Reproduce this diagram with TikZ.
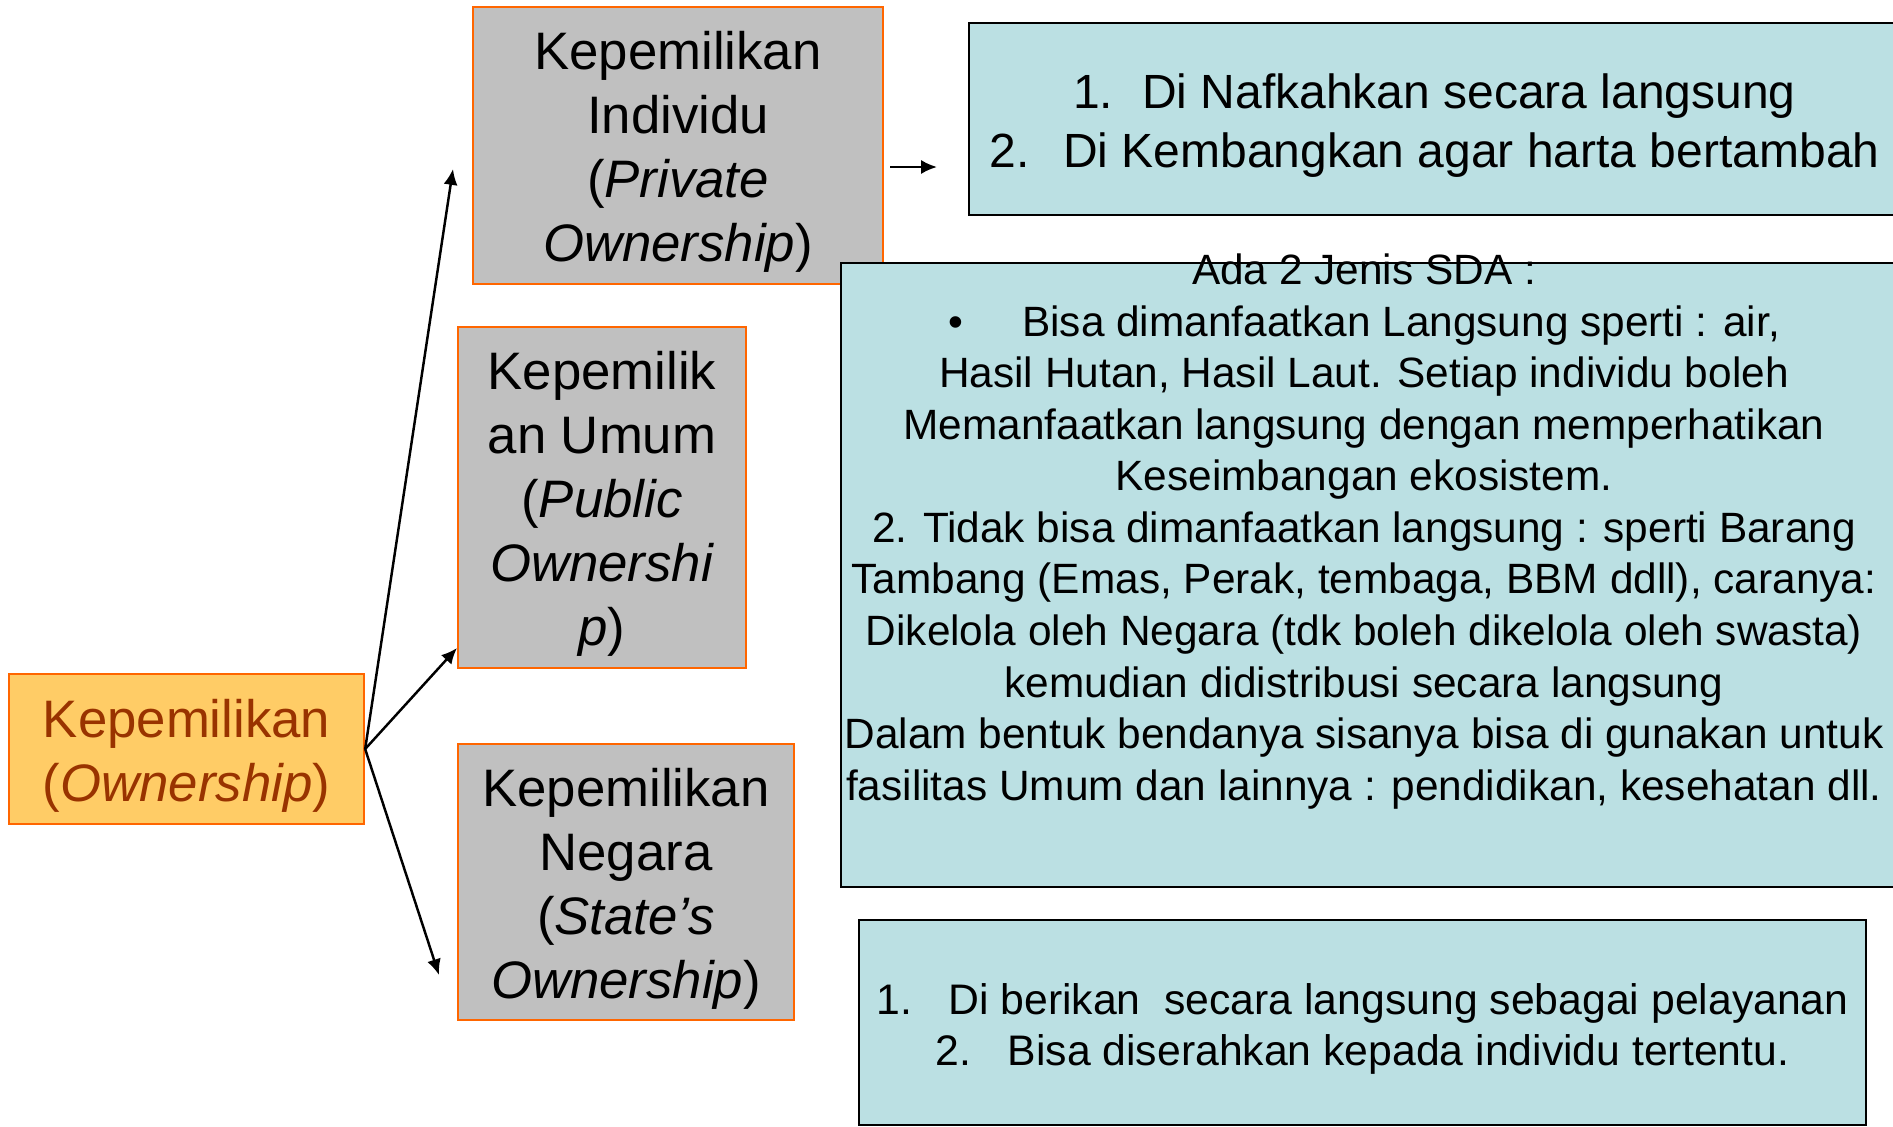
\documentclass[tikz,border=0pt]{standalone}
\usepackage{fontspec}
\setmainfont{Liberation Sans}
\usetikzlibrary{arrows.meta}

\definecolor{ownfill}{HTML}{FFCC66}
\definecolor{ownline}{HTML}{FF6600}
\definecolor{owntext}{HTML}{993300}
\definecolor{kindfill}{HTML}{C0C0C0}
\definecolor{notefill}{HTML}{BBE0E3}

\begin{document}
\begin{tikzpicture}[x=0.01cm, y=-0.01cm,
  ownbox/.style={draw=ownline, line width=0.6pt, fill=ownfill, inner sep=0pt},
  kindbox/.style={draw=ownline, line width=0.6pt, fill=kindfill, inner sep=0pt},
  notebox/.style={draw=black, line width=0.6pt, fill=notefill, inner sep=0pt},
  boxtext/.style={align=center, inner sep=0pt, yshift=-0.065cm},
  bigtext/.style={boxtext, font=\fontsize{15}{18.2}\selectfont},
  link/.style={line width=0.7pt, -{Latex[length=4.5pt, width=4pt]}}
]
  % page size in pixels of the slide
  \useasboundingbox (0,0) rectangle (1893,1127);
  \clip (0,0) rectangle (1893,1127);

  % root
  \node[ownbox, minimum width=3.55cm, minimum height=1.50cm] (own) at (186.5,749) {};
  \node[bigtext, text=owntext] (owntxt) at (own.center)
    {Kepemilikan\\(\textit{Ownership})};

  % the three kinds of ownership
  \node[kindbox, minimum width=4.10cm, minimum height=2.77cm] (priv) at (678,145.5) {};
  \node[bigtext] (privtxt) at (priv.center)
    {Kepemilikan\\Individu\\(\textit{Private}\\\textit{Ownership})};
  \node[kindbox, minimum width=2.88cm, minimum height=3.41cm] (publ) at (602,497.5) {};
  \node[bigtext] (publtxt) at (publ.center)
    {Kepemilik\\an Umum\\(\textit{Public}\\\textit{Ownershi}\\\textit{p})};
  \node[kindbox, minimum width=3.36cm, minimum height=2.76cm] (stat) at (626,882) {};
  \node[bigtext] (stattxt) at (stat.center)
    {Kepemilikan\\Negara\\(\textit{State’s}\\\textit{Ownership})};

  % notes on the right
  \node[notebox, minimum width=9.31cm, minimum height=1.92cm] (privnote) at (1434.5,119) {};
  \node[boxtext, font=\fontsize{13.65}{16.8}\selectfont] (privnotetxt) at (privnote.center)
    {1.\hspace{0.6em}Di Nafkahkan secara langsung\\
     2.\hspace{0.7em}Di Kembangkan agar harta bertambah};
  \node[notebox, minimum width=10.59cm, minimum height=6.24cm] (publnote) at (1370.5,575) {};
  \node[boxtext, font=\fontsize{12.05}{14.65}\selectfont] (publnotetxt) at (1364,525)
    {Ada 2 Jenis SDA :\\
     •\hspace{1.4em}Bisa dimanfaatkan Langsung sperti : air,\\
     Hasil Hutan, Hasil Laut. Setiap individu boleh\\
     Memanfaatkan langsung dengan memperhatikan\\
     Keseimbangan ekosistem.\\
     2. Tidak bisa dimanfaatkan langsung : sperti Barang\\
     Tambang (Emas, Perak, tembaga, BBM ddll), caranya:\\
     Dikelola oleh Negara (tdk boleh dikelola oleh swasta)\\
     kemudian didistribusi secara langsung\\
     Dalam bentuk bendanya sisanya bisa di gunakan untuk\\
     fasilitas Umum dan lainnya : pendidikan, kesehatan dll.};
  \node[notebox, minimum width=10.07cm, minimum height=2.05cm] (statnote) at (1362.5,1022.5) {};
  \node[boxtext, font=\fontsize{12.15}{14.65}\selectfont] (statnotetxt) at (statnote.center)
    {1.\hspace{0.85em}Di berikan\ \ secara langsung sebagai pelayanan\\
     2.\hspace{0.85em}Bisa diserahkan kepada individu tertentu.};

  % free arrow ends
  \coordinate (privtip) at (453,169);
  \coordinate (publtip) at (457,648);
  \coordinate (stattip) at (439,975);
  \coordinate (notefrom) at (890,167);
  \coordinate (noteto) at (937,167);

  \draw[link] (own.east) -- (privtip);
  \draw[link] (own.east) -- (publtip);
  \draw[link] (own.east) -- (stattip);
  \draw[link] (notefrom) -- (noteto);
\end{tikzpicture}
\end{document}
